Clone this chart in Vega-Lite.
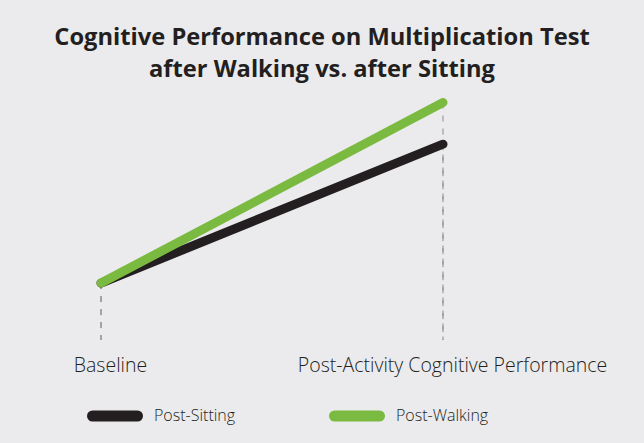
{
  "$schema": "https://vega.github.io/schema/vega-lite/v6.json",
  "autosize": {"type": "none"},
  "padding": {"left": 40, "top": 90, "right": 40, "bottom": 103},
  "width": 564,
  "height": 250,
  "background": "#ebebed",
  "title": {
    "text": ["Cognitive Performance on Multiplication Test", "after Walking vs. after Sitting"],
    "font": "Open Sans",
    "fontSize": 23.7,
    "fontWeight": "bold",
    "color": "#231f20",
    "lineHeight": 32,
    "anchor": "middle",
    "offset": 8
  },
  "data": {
    "values": [
      {"stage": "Baseline", "group": "Post-Sitting", "score": 100},
      {"stage": "Post-Activity Cognitive Performance", "group": "Post-Sitting", "score": 120},
      {"stage": "Baseline", "group": "Post-Walking", "score": 100},
      {"stage": "Post-Activity Cognitive Performance", "group": "Post-Walking", "score": 126}
    ]
  },
  "encoding": {
    "x": {
      "field": "stage",
      "type": "nominal",
      "sort": ["Baseline", "Post-Activity Cognitive Performance"],
      "scale": {"type": "point", "padding": 0.3246, "align": 0.2748, "round": false},
      "axis": {
        "title": null,
        "domain": false,
        "ticks": false,
        "grid": false,
        "labelAngle": 0,
        "labelFont": "Open Sans",
        "labelFontSize": 19.5,
        "labelFontWeight": 300,
        "labelColor": "#231f20",
        "labelPadding": 16,
        "labelOffset": 9,
        "labelLimit": 0
      }
    },
    "y": {
      "field": "score",
      "type": "quantitative",
      "scale": {"domain": [91.8, 127.8], "zero": false, "nice": false},
      "axis": null
    }
  },
  "layer": [
    {
      "mark": {"type": "rule", "color": "#8a8a8c", "strokeWidth": 1, "strokeDash": [6, 7]},
      "encoding": {"y2": {"datum": 91.8}}
    },
    {
      "mark": {"type": "line", "strokeWidth": 9, "strokeCap": "round", "strokeJoin": "round"},
      "encoding": {
        "color": {
          "field": "group",
          "type": "nominal",
          "scale": {"domain": ["Post-Sitting", "Post-Walking"], "range": ["#231f20", "#7bba41"]},
          "legend": {
            "title": null,
            "orient": "none",
            "legendX": 47,
            "legendY": 298,
            "direction": "horizontal",
            "symbolType": "stroke",
            "symbolSize": 2025,
            "symbolStrokeWidth": 11,
            "labelFont": "Open Sans",
            "labelFontSize": 16,
            "labelFontWeight": 300,
            "labelColor": "#231f20",
            "labelOffset": 11,
            "columnPadding": 76,
            "encode": {"symbols": {"update": {"strokeCap": {"value": "round"}}}}
          }
        }
      }
    }
  ],
  "config": {"view": {"stroke": null}}
}
